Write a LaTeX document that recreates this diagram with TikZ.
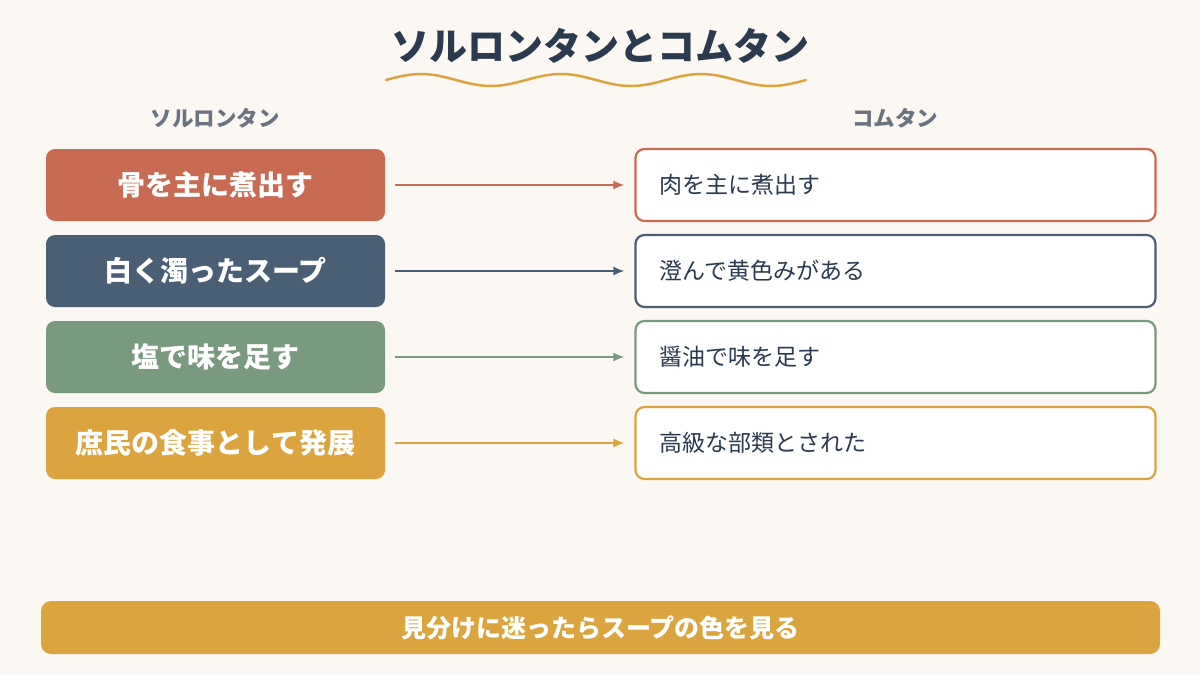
\documentclass[tikz,border=0pt]{standalone}
\usepackage{fontspec}
\setmainfont{Noto Sans CJK JP}
\usetikzlibrary{arrows.meta}
\definecolor{bg}{HTML}{FBF7F3}
\definecolor{navy}{HTML}{2B3A4E}
\definecolor{gr}{HTML}{6B7280}
\definecolor{c1}{HTML}{C96A52}
\definecolor{c2}{HTML}{4A5E75}
\definecolor{c3}{HTML}{7A9A80}
\definecolor{c4}{HTML}{DBA43F}
\begin{document}
\begin{tikzpicture}[x=1pt,y=-1pt,
 lbox/.style={rounded corners=9pt,minimum width=339pt,minimum height=72pt,text=white,font=\fontsize{28}{32}\selectfont\bfseries,inner sep=0pt},
 rbox/.style={draw,line width=2.2pt,fill=white,rounded corners=9pt,minimum width=520pt,minimum height=72pt,inner sep=0pt},
 rtxt/.style={anchor=west,text=navy,font=\fontsize{23}{26}\selectfont},
 arr/.style={line width=1.6pt,-{Latex[length=11pt,width=9pt]}}]
\useasboundingbox (0,0) rectangle (1200,675);
\fill[bg] (0,0) rectangle (1200,675);
\node[text=navy,font=\fontsize{38}{44}\selectfont\bfseries] (t) at (600,46) {ソルロンタンとコムタン};
\draw[c4,line width=2.5pt,line cap=round] (386,80) sin (421,74) cos (456,80) sin (491,86) cos (526,80) sin (561,74) cos (596,80) sin (631,86) cos (666,80) sin (701,74) cos (736,80) sin (771,86) cos (806,80);
\node[text=gr,font=\fontsize{21.5}{25}\selectfont\bfseries] (h1) at (215,118) {ソルロンタン};
\node[text=gr,font=\fontsize{21.5}{25}\selectfont\bfseries] (h2) at (895,118) {コムタン};
\foreach \i/\y/\c/\l/\r in {1/185/c1/骨を主に煮出す/肉を主に煮出す,2/271/c2/白く濁ったスープ/澄んで黄色みがある,3/357/c3/塩で味を足す/醤油で味を足す,4/443/c4/庶民の食事として発展/高級な部類とされた}{
 \node[lbox,fill=\c] (l\i) at (215.5,\y) {\l};
 \node[rbox,draw=\c] (r\i) at (895.5,\y) {};
 \node[rtxt] (rt\i) at (656,\y) {\r};
 \draw[arr,\c] ([xshift=10pt]l\i.east) -- ([xshift=-10pt]r\i.west);
}
\node[fill=c4,rounded corners=10pt,minimum width=1119pt,minimum height=53pt,text=white,font=\fontsize{25}{28}\selectfont\bfseries] (b) at (600.5,627.5) {見分けに迷ったらスープの色を見る};
\end{tikzpicture}
\end{document}
